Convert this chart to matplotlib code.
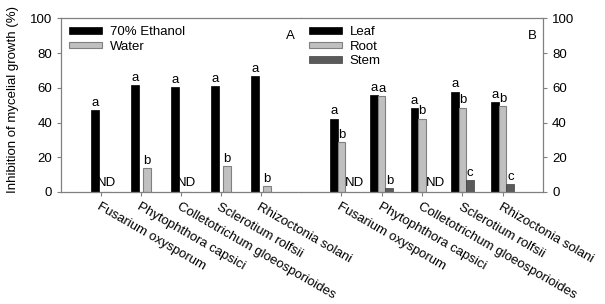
import numpy as np
import matplotlib
matplotlib.use("Agg")
import matplotlib.pyplot as plt
from matplotlib.patches import Rectangle

plt.rcParams["font.family"] = ["Liberation Sans", "DejaVu Sans"]
plt.rcParams["font.size"] = 9.5

species = ["Fusarium oxysporum", "Phytophthora capsici", "Colletotrichum gloeosporioides",
           "Sclerotium rolfsii", "Rhizoctonia solani"]

# panel A: extract solvent
ethanol = [47.1, 61.5, 60.2, 60.9, 66.7]
water = [0, 13.6, 0, 14.9, 3.4]
ethanol_letters = ["a", "a", "a", "a", "a"]
water_letters = ["ND", "b", "ND", "b", "b"]

# panel B: plant part
leaf = [42.3, 55.8, 48.1, 57.7, 51.6]
root = [28.5, 55.2, 42.3, 48.5, 49.4]
stem = [0, 2.3, 0, 6.7, 4.6]
leaf_letters = ["a", "a", "a", "a", "a"]
root_letters = ["b", "a", "b", "b", "b"]
stem_letters = ["ND", "b", "ND", "c", "c"]

GRAY = "#808080"
BLACK = "#000000"
LIGHT = "#c0c0c0"
DARK = "#5a5a5a"


def style_axis(ax, side):
    for s in ax.spines.values():
        s.set_color(GRAY)
        s.set_linewidth(0.9)
    ax.set_xlim(-1, 5)
    ax.set_ylim(0, 100)
    ax.set_yticks(np.arange(0, 101, 20))
    ax.tick_params(axis="both", color=GRAY, length=3, width=0.8, direction="out")
    ax.set_xticks(np.arange(len(species)))
    ax.set_xticklabels(species, rotation=-30, ha="left", va="top", rotation_mode="anchor")
    if side == "right":
        ax.yaxis.tick_right()
        ax.spines["left"].set_visible(False)


def annotate(ax, xs, ys, labels):
    for x, y, lab in zip(xs, ys, labels):
        if lab == "ND":
            continue
        ax.text(x, y + 0.8, lab, ha="center", va="bottom")


fig = plt.figure(figsize=(6.05, 3.04), dpi=100)
axA = fig.add_axes([61 / 605, 1 - 192 / 304, 240 / 605, 173.7 / 304])
axB = fig.add_axes([301 / 605, 1 - 192 / 304, 242 / 605, 173.7 / 304])

x = np.arange(len(species))

# panel A
w = 0.2
axA.bar(x - 0.15, ethanol, w, color=BLACK, edgecolor=BLACK, linewidth=0.5, label="70% Ethanol")
axA.bar(x + 0.15, water, w, color=LIGHT, edgecolor=GRAY, linewidth=0.8, label="Water")
annotate(axA, x - 0.15, ethanol, ethanol_letters)
annotate(axA, x + 0.15, water, water_letters)
for i, lab in enumerate(water_letters):
    if lab == "ND":
        axA.text(x[i] + 0.15, 1.5, "ND", ha="center", va="bottom")
style_axis(axA, "left")
axA.spines["right"].set_visible(False)
axA.set_ylabel("Inhibition of mycelial growth (%)")
axA.yaxis.set_label_coords(-0.175, 0.53)
axA.text(0.955, 0.9, "A", transform=axA.transAxes, ha="center", va="center")
hA = [Rectangle((0, 0), 1, 1, facecolor=BLACK, edgecolor=BLACK, linewidth=0.5),
      Rectangle((0, 0), 1, 1, facecolor=LIGHT, edgecolor=GRAY, linewidth=0.8)]
axA.legend(hA, ["70% Ethanol", "Water"], loc="upper left", frameon=False,
           handlelength=2.5, handleheight=0.4, labelspacing=0.2,
           handletextpad=0.6, borderaxespad=0.2, bbox_to_anchor=(0.0, 1.0))

# panel B
wb = 0.19
axB.bar(x - 0.19, leaf, wb, color=BLACK, edgecolor=BLACK, linewidth=0.5, label="Leaf")
axB.bar(x, root, wb, color=LIGHT, edgecolor=GRAY, linewidth=0.8, label="Root")
axB.bar(x + 0.19, stem, wb, color=DARK, edgecolor="#404040", linewidth=0.5, label="Stem")
annotate(axB, x - 0.19, leaf, leaf_letters)
annotate(axB, x, root, root_letters)
annotate(axB, x + 0.19, stem, stem_letters)
for i, lab in enumerate(stem_letters):
    if lab == "ND":
        axB.text(x[i] + 0.33, 1.5, "ND", ha="center", va="bottom")
style_axis(axB, "right")
axB.text(0.955, 0.9, "B", transform=axB.transAxes, ha="center", va="center")
hB = [Rectangle((0, 0), 1, 1, facecolor=BLACK, edgecolor=BLACK, linewidth=0.5),
      Rectangle((0, 0), 1, 1, facecolor=LIGHT, edgecolor=GRAY, linewidth=0.8),
      Rectangle((0, 0), 1, 1, facecolor=DARK, edgecolor="#404040", linewidth=0.5)]
axB.legend(hB, ["Leaf", "Root", "Stem"], loc="upper left", frameon=False,
           handlelength=2.5, handleheight=0.4, labelspacing=0.2,
           handletextpad=0.6, borderaxespad=0.2, bbox_to_anchor=(0.0, 1.0))

fig.savefig("out.png", dpi=100)
